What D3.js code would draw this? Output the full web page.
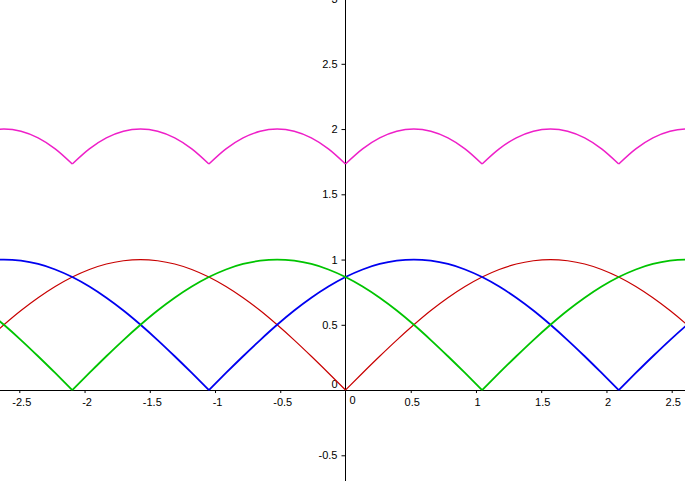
<!DOCTYPE html>
<html>
<head>
<meta charset="utf-8">
<script src="https://cdn.jsdelivr.net/npm/d3@7"></script>
<style>
  html, body { margin: 0; padding: 0; background: #fff; }
  svg { display: block; }
  text { font-family: "Liberation Sans", Arial, sans-serif; font-size: 11px; fill: #000; }
</style>
</head>
<body>
<svg id="chart" width="685" height="481"></svg>
<script>
// sample positions (radians)
const xs = [-2.749,-2.618,-2.487,-2.356,-2.225,-2.094,-1.963,-1.833,-1.702,-1.571,-1.440,-1.309,-1.178,-1.047,-0.916,-0.785,-0.654,-0.524,-0.393,-0.262,-0.131,
  0,0.131,0.262,0.393,0.524,0.654,0.785,0.916,1.047,1.178,1.309,1.440,1.571,1.702,1.833,1.963,2.094,2.225,2.356,2.487,2.618,2.749];
// red curve values
const redVals = [0.383,0.5,0.609,0.707,0.793,0.866,0.924,0.966,0.991,1,0.991,0.966,0.924,0.866,0.793,0.707,0.609,0.5,0.383,0.259,0.131,
  0,0.131,0.259,0.383,0.5,0.609,0.707,0.793,0.866,0.924,0.966,0.991,1,0.991,0.966,0.924,0.866,0.793,0.707,0.609,0.5,0.383];
// blue curve values
const blueVals = [0.991,1,0.991,0.966,0.924,0.866,0.793,0.707,0.609,0.5,0.383,0.259,0.131,0,0.131,0.259,0.383,0.5,0.609,0.707,0.793,
  0.866,0.924,0.966,0.991,1,0.991,0.966,0.924,0.866,0.793,0.707,0.609,0.5,0.383,0.259,0.131,0,0.131,0.259,0.383,0.5,0.609];
// green curve values
const greenVals = [0.609,0.5,0.383,0.259,0.131,0,0.131,0.259,0.383,0.5,0.609,0.707,0.793,0.866,0.924,0.966,0.991,1,0.991,0.966,0.924,
  0.866,0.793,0.707,0.609,0.5,0.383,0.259,0.131,0,0.131,0.259,0.383,0.5,0.609,0.707,0.793,0.866,0.924,0.966,0.991,1,0.991];
// magenta (sum) curve values
const sumVals = [1.983,2.0,1.983,1.932,1.848,1.732,1.848,1.932,1.983,2.0,1.983,1.932,1.848,1.732,1.848,1.932,1.983,2.0,1.983,1.932,1.848,
  1.732,1.848,1.932,1.983,2.0,1.983,1.932,1.848,1.732,1.848,1.932,1.983,2.0,1.983,1.932,1.848,1.732,1.848,1.932,1.983,2.0,1.983];
// tick labels
const xTicks = [-2.5,-2,-1.5,-1,-0.5,0.5,1,1.5,2,2.5];
const yTicks = [-0.5,0.5,1,1.5,2,2.5,3];
const xDomain = [-2.648, 2.602];
const yDomain = [-0.697, 2.989];

const W = 685, H = 481;
const svg = d3.select("#chart");
const x = d3.scaleLinear().domain(xDomain).range([0, W]);
const y = d3.scaleLinear().domain(yDomain).range([H, 0]);

const fmt = d => String(d);

// axes
const xAxisG = svg.append("g").attr("transform", `translate(0,${y(0)})`)
  .call(d3.axisBottom(x).tickValues(xTicks).tickSize(3).tickPadding(5).tickFormat(fmt));
const yAxisG = svg.append("g").attr("transform", `translate(${x(0)},0)`)
  .call(d3.axisLeft(y).tickValues(yTicks).tickSize(4).tickPadding(4).tickFormat(fmt));
[xAxisG, yAxisG].forEach(g => {
  g.select(".domain").remove();
  g.selectAll("text").style("font-size", "11px").attr("font-family", null);
  g.selectAll("line").attr("stroke", "#000");
});
xAxisG.selectAll(".tick text").attr("dx", d => d < 0 ? 2 : 1);

// full axis lines
svg.append("line").attr("x1", 0).attr("x2", W).attr("y1", y(0)).attr("y2", y(0))
  .attr("stroke", "#000").attr("stroke-width", 1).attr("shape-rendering", "crispEdges");
svg.append("line").attr("x1", x(0)).attr("x2", x(0)).attr("y1", 0).attr("y2", H)
  .attr("stroke", "#000").attr("stroke-width", 1).attr("shape-rendering", "crispEdges");

// origin labels
svg.append("text").attr("x", x(0) + 7).attr("y", y(0) + 14).attr("text-anchor", "middle").text("0");
svg.append("text").attr("x", x(0) - 8).attr("y", y(0) - 2).attr("text-anchor", "end").text("0");

// curves: split at kinks (local minima) and smooth each arc
const series = [
  { vals: redVals, color: "#c80000", w: 1.2 },
  { vals: blueVals, color: "#0000f0", w: 1.8 },
  { vals: greenVals, color: "#00c400", w: 1.8 },
  { vals: sumVals, color: "#ee1fc8", w: 1.5 }
];
const line = d3.line().x(d => x(d[0])).y(d => y(d[1])).curve(d3.curveMonotoneX);
series.forEach(s => {
  const pts = xs.map((xv, i) => [xv, s.vals[i]]);
  const segs = [];
  let cur = [pts[0]];
  for (let i = 1; i < pts.length; i++) {
    cur.push(pts[i]);
    if (i < pts.length - 1 && pts[i][1] < pts[i - 1][1] && pts[i][1] < pts[i + 1][1]) {
      segs.push(cur);
      cur = [pts[i]];
    }
  }
  segs.push(cur);
  const g = svg.append("g");
  segs.forEach(seg => {
    g.append("path")
      .datum(seg)
      .attr("d", line)
      .attr("fill", "none")
      .attr("stroke", s.color)
      .attr("stroke-width", s.w)
      .attr("stroke-linejoin", "round");
  });
});
</script>
</body>
</html>
